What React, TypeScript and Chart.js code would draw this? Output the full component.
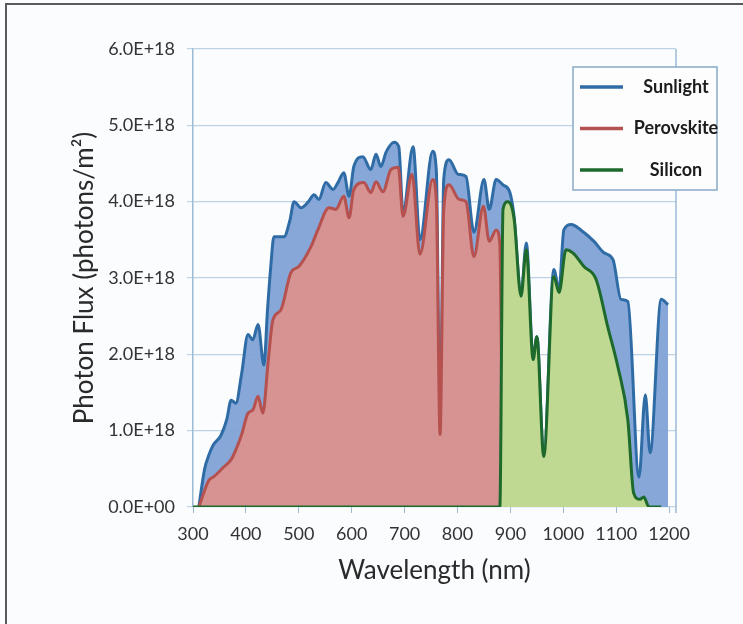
import React, { useEffect, useRef } from "react";
import { Chart, registerables } from "chart.js";

Chart.register(...registerables);

// Values are in units of 1E+18 photons/m²
const FLUX_UNIT = 1e18;

const xTickValues = [300, 400, 500, 600, 700, 800, 900, 1000, 1100, 1200];
const yTickValues = [0, 1, 2, 3, 4, 5, 6];

const sunlightWavelength = [
  311, 322, 330, 338, 353, 364, 372, 381, 392, 404, 413, 423, 434, 441, 447, 453, 472, 483, 491,
  504, 517, 529, 538, 551, 565, 574, 585, 595, 604, 621, 636, 646, 655, 665, 680, 689, 697, 716,
  729, 753, 760, 767, 774, 784, 801, 816, 831, 850, 860, 873, 886, 899, 907, 920, 930, 943, 950,
  963, 982, 992, 1001, 1015, 1033, 1058, 1077, 1094, 1109, 1122, 1143, 1155, 1164, 1185, 1198,
];
const sunlightFlux = [
  0, 0.5, 0.68, 0.81, 0.94, 1.15, 1.4, 1.36, 1.75, 2.26, 2.19, 2.39, 1.86, 2.6, 3.15, 3.54, 3.54,
  3.75, 4.0, 3.92, 3.99, 4.09, 4.03, 4.25, 4.16, 4.25, 4.38, 4.07, 4.46, 4.59, 4.42, 4.62, 4.46,
  4.65, 4.78, 4.72, 3.86, 4.72, 3.5, 4.66, 4.4, 0.95, 4.3, 4.55, 4.36, 4.33, 3.6, 4.29, 3.9, 4.29,
  4.22, 4.12, 3.8, 2.76, 3.46, 1.96, 2.23, 0.66, 3.11, 2.85, 3.63, 3.7, 3.63, 3.48, 3.33, 3.24,
  2.72, 2.69, 0.39, 1.47, 0.71, 2.72, 2.65,
];

const perovskiteWavelength = [
  311, 330, 340, 359, 372, 381, 392, 404, 413, 423, 432, 442, 451, 466, 485, 500, 523, 536, 557,
  570, 585, 595, 604, 623, 636, 646, 659, 674, 688, 697, 714, 729, 753, 760, 767, 774, 784, 803,
  816, 831, 849, 860, 873, 880, 883, 888,
];
const perovskiteFlux = [
  0, 0.35, 0.4, 0.53, 0.62, 0.75, 0.95, 1.23, 1.27, 1.45, 1.23, 1.9, 2.45, 2.58, 3.07, 3.15, 3.41,
  3.63, 3.92, 3.9, 4.07, 3.79, 4.16, 4.25, 4.12, 4.26, 4.13, 4.42, 4.45, 3.81, 4.36, 3.31, 4.29,
  4.0, 0.95, 3.9, 4.22, 4.03, 4.0, 3.28, 3.94, 3.48, 3.63, 3.45, 2.0, 0,
];

const siliconWavelength = [
  300, 880, 886, 895, 907, 920, 930, 943, 950, 963, 982, 992, 1005, 1018, 1039, 1062, 1084, 1103,
  1122, 1133, 1145, 1152, 1162, 1185,
];
const siliconFlux = [
  0, 0, 3.9, 4.0, 3.77, 2.76, 3.37, 1.93, 2.23, 0.66, 3.02, 2.81, 3.37, 3.33, 3.15, 2.98, 2.36,
  1.84, 1.14, 0.18, 0.1, 0.13, 0, 0,
];

const seriesNames = ["Sunlight", "Perovskite", "Silicon"];

const toPoints = (xs: number[], ys: number[]) =>
  xs.map((x, i) => ({ x, y: ys[i] * FLUX_UNIT }));

const formatFlux = (v: number) => {
  if (v === 0) return "0.0E+00";
  return (v / FLUX_UNIT).toFixed(1) + "E+18";
};

const FONT = "Lato, 'Open Sans', sans-serif";
const TEXT = "#333333";
const GRID = "#bdd2e4";
const FRAME = "#9dbad3";

const boxLegend = {
  id: "boxLegend",
  afterDraw(chart: any) {
    const { ctx, chartArea } = chart;
    const left = chartArea.right - 103;
    const top = chartArea.top + 18;
    const w = 144;
    const h = 123;
    ctx.save();
    ctx.fillStyle = "#fdfdfe";
    ctx.fillRect(left, top, w, h);
    ctx.strokeStyle = "#86a9c8";
    ctx.lineWidth = 1.5;
    ctx.strokeRect(left, top, w, h);
    chart.data.datasets.forEach((ds: any, i: number) => {
      const y = top + 20 + i * 41.5;
      ctx.strokeStyle = ds.borderColor;
      ctx.lineWidth = 3.5;
      ctx.beginPath();
      ctx.moveTo(left + 7, y);
      ctx.lineTo(left + 50, y);
      ctx.stroke();
      ctx.fillStyle = "#1c1c1c";
      ctx.font = `bold 18px ${FONT}`;
      ctx.textAlign = "center";
      ctx.textBaseline = "middle";
      ctx.fillText(ds.label, left + 103, y);
    });
    ctx.restore();
  },
};

const rightFrame = {
  id: "rightFrame",
  beforeDatasetsDraw(chart: any) {
    const { ctx, chartArea } = chart;
    ctx.save();
    ctx.strokeStyle = FRAME;
    ctx.lineWidth = 1.5;
    ctx.beginPath();
    ctx.moveTo(chartArea.right, chartArea.top);
    ctx.lineTo(chartArea.right, chartArea.bottom + 6);
    ctx.stroke();
    ctx.restore();
  },
};

export default function App() {
  const ref = useRef<HTMLCanvasElement | null>(null);

  useEffect(() => {
    if (!ref.current) return;
    const chart = new Chart(ref.current, {
      type: "line",
      data: {
        datasets: [
          {
            label: seriesNames[0],
            data: toPoints(sunlightWavelength, sunlightFlux),
            borderColor: "#2f6ca6",
            backgroundColor: "rgba(128,162,214,0.95)",
            fill: "origin",
            order: 3,
          },
          {
            label: seriesNames[1],
            data: toPoints(perovskiteWavelength, perovskiteFlux),
            borderColor: "#b5514f",
            backgroundColor: "#d69391",
            fill: "origin",
            order: 2,
          },
          {
            label: seriesNames[2],
            data: toPoints(siliconWavelength, siliconFlux),
            borderColor: "#1d6a2c",
            backgroundColor: "#bfd892",
            fill: "origin",
            order: 1,
          },
        ],
      },
      options: {
        animation: false,
        responsive: false,
        maintainAspectRatio: false,
        layout: { padding: { left: 0, top: 49, right: 67, bottom: 0 } },
        plugins: { legend: { display: false }, tooltip: { enabled: false } },
        elements: {
          point: { radius: 0 },
          line: { borderWidth: 3, cubicInterpolationMode: "monotone", borderJoinStyle: "round" },
        },
        scales: {
          x: {
            type: "linear",
            min: 300,
            max: 1213,
            afterBuildTicks: (s: any) => {
              s.ticks = xTickValues.map((v) => ({ value: v }));
            },
            afterFit: (s: any) => {
              s.height = 117;
            },
            ticks: {
              color: TEXT,
              font: { family: FONT, size: 18 },
              padding: 10,
              maxRotation: 0,
              autoSkip: false,
              callback: (v: any) => String(v),
            },
            grid: { drawOnChartArea: false, drawTicks: true, tickLength: 6, color: FRAME },
            border: { display: false },
            title: {
              display: true,
              text: "Wavelength (nm)",
              color: "#2a2a2a",
              font: { family: FONT, size: 26 },
              padding: { top: 0, bottom: 38 },
            },
          },
          y: {
            type: "linear",
            min: 0,
            max: 6 * FLUX_UNIT,
            afterBuildTicks: (s: any) => {
              s.ticks = yTickValues.map((v) => ({ value: v * FLUX_UNIT }));
            },
            afterFit: (s: any) => {
              s.width = 193;
            },
            ticks: {
              color: TEXT,
              font: { family: FONT, size: 18 },
              padding: 12,
              callback: (v: any) => formatFlux(Number(v)),
            },
            grid: { color: GRID, lineWidth: 1.2, tickLength: 6 },
            border: { display: true, color: FRAME, width: 1.5 },
            title: {
              display: true,
              text: "Photon Flux (photons/m²)",
              color: "#2a2a2a",
              font: { family: FONT, size: 26 },
              padding: { top: 69, bottom: 0 },
            },
          },
        },
      },
      plugins: [rightFrame, boxLegend],
    } as any);
    return () => chart.destroy();
  }, []);

  return (
    <div
      style={{
        position: "fixed",
        left: 0,
        top: 0,
        width: 743,
        height: 624,
        background: "#fbfcfe",
        overflow: "hidden",
      }}
    >
      <canvas ref={ref} width={743} height={624} style={{ position: "absolute", left: 0, top: 0 }} />
      <div
        style={{
          position: "absolute",
          left: 5,
          top: 3,
          width: 760,
          height: 640,
          borderTop: "2px solid #5a5a5a",
          borderLeft: "2px solid #5a5a5a",
          pointerEvents: "none",
        }}
      />
    </div>
  );
}
